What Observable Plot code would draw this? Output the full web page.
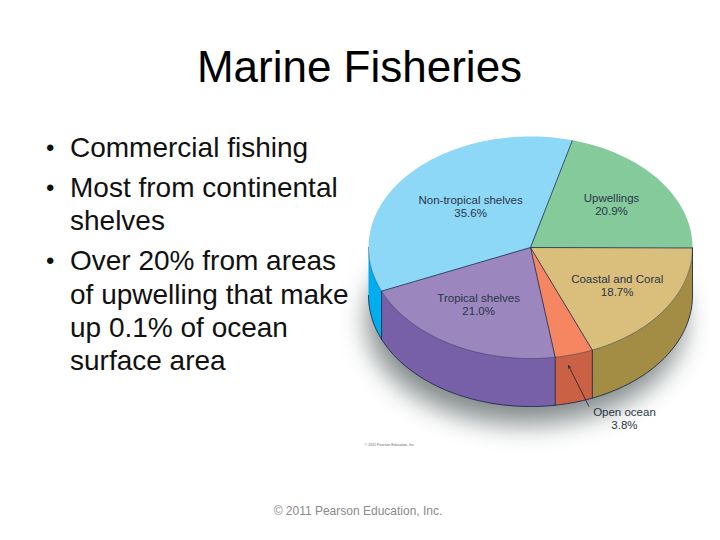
<!DOCTYPE html>
<html><head><meta charset="utf-8">
<script src="https://cdn.jsdelivr.net/npm/d3@7"></script>
<script src="https://cdn.jsdelivr.net/npm/@observablehq/plot@0.6"></script>
<style>
html,body{margin:0;padding:0;background:#fff;}
body{width:720px;height:540px;position:relative;overflow:hidden;font-family:"Liberation Sans",Arial,sans-serif;}
#title{position:absolute;left:0;top:38px;width:720px;text-align:center;font-size:44px;line-height:58px;color:#000;padding-right:1px;box-sizing:border-box;}
#bullets{position:absolute;left:44px;top:131px;margin:0;padding:0;list-style:none;font-size:28px;line-height:33.3px;color:#111;}
#bullets li{position:relative;padding-left:26px;margin-bottom:6.8px;white-space:nowrap;}
#bullets li::before{content:"•";position:absolute;left:2px;font-size:24px;}
#foot{position:absolute;left:0;top:504px;width:716px;text-align:center;font-size:12px;line-height:15px;color:#8a8a8a;}
#pie{position:absolute;left:360px;top:130px;}
</style></head><body>
<div id="title">Marine Fisheries</div>
<ul id="bullets"></ul>
<div id="pie"></div>
<div id="foot">© 2011 Pearson Education, Inc.</div>
<script>
const titleText = "Marine Fisheries";
const bulletLines = [
  ["Commercial fishing"],
  ["Most from continental", "shelves"],
  ["Over 20% from areas", "of upwelling that make", "up 0.1% of ocean", "surface area"]
];
const categories = ["Upwellings", "Coastal and Coral", "Open ocean", "Tropical shelves", "Non-tropical shelves"];
const shares = [20.9, 18.7, 3.8, 21.0, 35.6];
const topColors = ["#84ca9b", "#dabe7c", "#f68662", "#9b86be", "#8dd7f7"];
const wallColors = ["#6fae84", "#a38d44", "#cb6144", "#7860a9", "#00aeef"];

document.getElementById("bullets").innerHTML =
  bulletLines.map(l => "<li>" + l.join("<br>") + "</li>").join("");

// Geometry in units of the pie's radii; the y scale foreshortens the disc.
const depth = 48 / 111;
const rad = d3.pie().sort(null).value(d => d.share).startAngle(Math.PI / 12).endAngle(Math.PI / 12 + 2 * Math.PI);
const slices = rad(categories.map((name, i) => ({name, share: shares[i], fill: topColors[i], wall: wallColors[i]})));
const px = a => Math.sin(a), py = a => Math.cos(a);
const arcAngles = (a0, a1) => {
  const n = Math.max(2, Math.ceil(Math.abs(a1 - a0) / 0.02));
  return d3.range(n + 1).map(i => a0 + (a1 - a0) * i / n);
};

const topPts = slices.flatMap(s => [
  {id: s.data.name, fill: s.data.fill, x: 0, y: 0},
  ...arcAngles(s.startAngle, s.endAngle).map(a => ({id: s.data.name, fill: s.data.fill, x: px(a), y: py(a)}))
]);

// Visible walls: the part of each slice's rim on the front half of the disc.
const frontFrom = Math.PI / 2, frontTo = 3 * Math.PI / 2;
const wallPts = [], bottomRim = [], topRim = [], verticals = [];
for (const s of slices) {
  const a0 = Math.max(s.startAngle, frontFrom), a1 = Math.min(s.endAngle, frontTo);
  if (a1 <= a0) continue;
  const arc = arcAngles(a0, a1);
  for (const a of arc) wallPts.push({id: s.data.name, fill: s.data.wall, x: px(a), y: py(a)});
  for (const a of arc.slice().reverse()) wallPts.push({id: s.data.name, fill: s.data.wall, x: px(a), y: py(a) - depth});
  for (const a of arc) {
    bottomRim.push({id: s.data.name, x: px(a), y: py(a) - depth});
    topRim.push({id: s.data.name, x: px(a), y: py(a)});
  }
  if (s.startAngle > frontFrom) verticals.push(s.startAngle);
}
const spokes = slices.map(s => s.startAngle);
const shadowPts = arcAngles(0, 2 * Math.PI).map(a => ({x: 0.98 * px(a) - 0.03, y: 0.94 * py(a) - depth - 0.22}));

const sliceLabels = [
  {name: "Upwellings", x: 0.5, y: 0.385},
  {name: "Coastal and Coral", x: 0.535, y: -0.34},
  {name: "Tropical shelves", x: -0.32, y: -0.515},
  {name: "Non-tropical shelves", x: -0.37, y: 0.37}
].map(d => ({...d, label: d.name + "\n" + shares[categories.indexOf(d.name)].toFixed(1) + "%"}));
const outsideLabel = [{x: 0.58, y: -1.54, label: "Open ocean\n" + shares[2].toFixed(1) + "%"}];
const pointer = [{x1: 0.36, y1: -1.43, x2: 0.235, y2: -1.065}];

const ink = "#1c2c4c";
const chart = Plot.plot({
  width: 340, height: 330, margin: 0,
  x: {axis: null, domain: [-170 / 162, 170 / 162]},
  y: {axis: null, domain: [-213 / 111, 117 / 111]},
  marks: [
    Plot.line(shadowPts, {x: "x", y: "y", fill: "#848b8b", stroke: "none", curve: "linear-closed", imageFilter: "blur(13px)"}),
    Plot.line(wallPts, {x: "x", y: "y", z: "id", fill: "fill", stroke: "none", curve: "linear-closed"}),
    Plot.line(topPts, {x: "x", y: "y", z: "id", fill: "fill", stroke: "none", curve: "linear-closed"}),
    Plot.line(bottomRim, {x: "x", y: "y", z: "id", stroke: ink, strokeWidth: 0.9}),
    Plot.line(topRim, {x: "x", y: "y", z: "id", stroke: ink, strokeWidth: 0.6, strokeOpacity: 0.7}),
    Plot.link(spokes, {x1: 0, y1: 0, x2: a => px(a), y2: a => py(a), stroke: ink, strokeWidth: 0.8}),
    Plot.link(verticals, {x1: a => px(a), y1: a => py(a), x2: a => px(a), y2: a => py(a) - depth, stroke: ink, strokeWidth: 0.9}),
    Plot.text(sliceLabels, {x: "x", y: "y", text: "label", fontSize: 11.5, lineHeight: 1.1, fill: "#2a3648", fontFamily: "Liberation Sans"}),
    Plot.text(outsideLabel, {x: "x", y: "y", text: "label", fontSize: 11.5, lineHeight: 1.1, fill: "#2a3648", fontFamily: "Liberation Sans"}),
    Plot.arrow(pointer, {x1: "x1", y1: "y1", x2: "x2", y2: "y2", stroke: "#222", strokeWidth: 0.8, headLength: 5, bend: 0}),
    Plot.text(["© 2011 Pearson Education, Inc."], {frameAnchor: "bottom-left", dx: 4, dy: -15, fontSize: 3.6, fill: "#666", fontFamily: "Liberation Sans"})
  ]
});
chart.style.background = "transparent";
chart.style.overflow = "visible";
document.getElementById("pie").appendChild(chart);
</script>
</body></html>
